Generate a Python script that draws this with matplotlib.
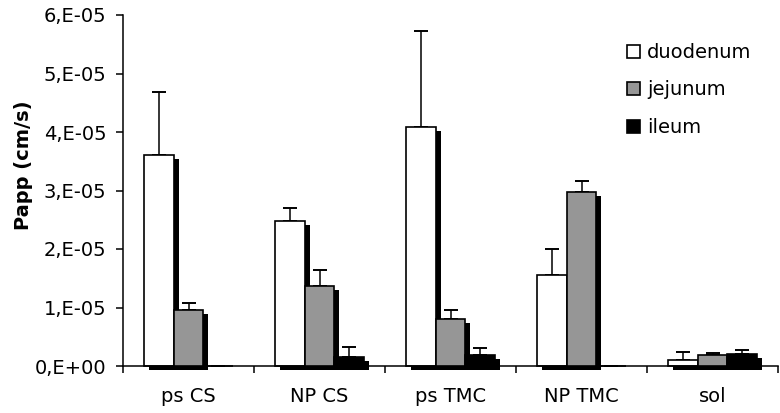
import numpy as np
import matplotlib
matplotlib.use('Agg')
import matplotlib.pyplot as plt
import matplotlib.patheffects as pe
from matplotlib.patches import Patch

# data
groups = ['ps CS', 'NP CS', 'ps TMC', 'NP TMC', 'sol']
series = ['duodenum', 'jejunum', 'ileum']
duodenum = [3.61e-5, 2.48e-5, 4.09e-5, 1.56e-5, 0.11e-5]
jejunum = [0.96e-5, 1.37e-5, 0.80e-5, 2.97e-5, 0.18e-5]
ileum = [0.0, 0.16e-5, 0.18e-5, 0.0, 0.21e-5]
duodenum_err = [1.07e-5, 0.22e-5, 1.64e-5, 0.44e-5, 0.13e-5]
jejunum_err = [0.12e-5, 0.27e-5, 0.16e-5, 0.20e-5, 0.05e-5]
ileum_err = [0.0, 0.17e-5, 0.12e-5, 0.0, 0.07e-5]
yticks = [0, 1e-5, 2e-5, 3e-5, 4e-5, 5e-5, 6e-5]
ytick_labels = ['0,E+00', '1,E-05', '2,E-05', '3,E-05', '4,E-05', '5,E-05', '6,E-05']

colors = ['white', '#969696', 'black']
plt.rcParams['font.family'] = ['DejaVu Sans']
plt.rcParams['font.size'] = 14

fig = plt.figure(figsize=(7.8, 4.13), dpi=100)
ax = fig.add_axes([123/780, 1-366/413, 655/780, 351/413])

x = np.arange(len(groups))
w = 0.224
# black drop shadow offset to the lower right of each bar
shadow = [pe.withSimplePatchShadow(offset=(3.6, -2.9), shadow_rgbFace='black', alpha=1.0)]
vals = [duodenum, jejunum, ileum]
errs = [duodenum_err, jejunum_err, ileum_err]
for i in range(3):
    pos = x + (i - 1) * w
    bars = ax.bar(pos, vals[i], w, color=colors[i], edgecolor='black', linewidth=1.2,
                  zorder=2 + i, clip_on=False)
    for b in bars:
        b.set_path_effects(shadow)
    ax.errorbar(pos, vals[i], yerr=[np.zeros(5), errs[i]], fmt='none', ecolor='black',
                elinewidth=1.1, capsize=4.7, capthick=1.4, zorder=1.5 + i)

ax.set_xlim(-0.5, 4.5)
ax.set_ylim(0, 6e-5)
ax.set_yticks(yticks)
ax.set_yticklabels(ytick_labels)
ax.set_xticks(x)
ax.set_xticklabels(groups)
ax.set_xticks(np.arange(-0.5, 5, 1), minor=True)
ax.tick_params(axis='x', which='major', length=0, pad=15)
ax.tick_params(axis='x', which='minor', length=5, width=1.1, direction='out')
ax.tick_params(axis='y', length=5, width=1.1, direction='out', pad=7)
for s in ['top', 'right']:
    ax.spines[s].set_visible(False)
for s in ['left', 'bottom']:
    ax.spines[s].set_linewidth(1.1)

ax.set_ylabel('Papp (cm/s)', fontweight='bold')
ax.yaxis.set_label_coords(-0.137, 0.573)

handles = [Patch(facecolor=c, edgecolor='black', linewidth=1.2) for c in colors]
ax.legend(handles, series, loc='upper left', bbox_to_anchor=(627/780, 1-43/413),
          bbox_transform=fig.transFigure,
          frameon=False, handlelength=0.67, handleheight=0.67, handletextpad=0.36,
          labelspacing=0.95, borderpad=0, borderaxespad=0)

fig.savefig('out.png', dpi=100)
